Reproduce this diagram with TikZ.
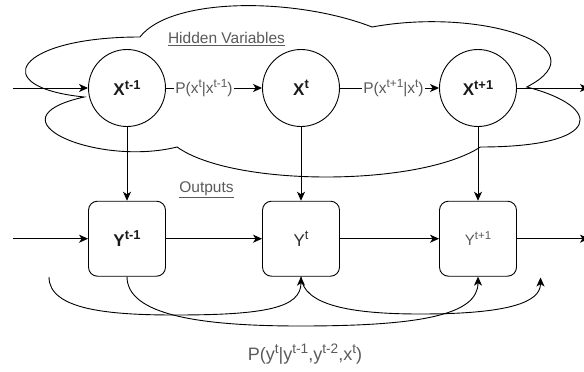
\documentclass[tikz,border=0pt]{standalone}
\usepackage{fontspec}
\usepackage{graphicx}
\setmainfont{Liberation Sans}
\usetikzlibrary{arrows.meta}
\newcommand\sups[1]{\raisebox{.38em}{\scalebox{.76}{#1}}}
\definecolor{txtdark}{HTML}{1A1A1A}
\definecolor{txtmid}{HTML}{2E2E2E}
\definecolor{txtgray}{HTML}{5A5A5A}
\tikzset{
  arr/.style={line width=0.9pt, -{Stealth[length=9pt,width=8pt,inset=2.5pt]}},
  xnode/.style={circle, draw, line width=0.9pt, fill=white, minimum size=77pt, inner sep=0pt,
    font=\fontsize{17}{19}\selectfont\bfseries, text=txtdark},
  ynode/.style={rectangle, rounded corners=9pt, draw, line width=0.9pt, fill=white,
    minimum width=77pt, minimum height=75pt, inner sep=0pt, text=txtdark},
  elabel/.style={fill=white, inner sep=1pt, text=txtgray, font=\fontsize{15.5}{17}\selectfont},
  title/.style={text=txtgray, font=\fontsize{15.5}{17}\selectfont, inner sep=0pt},
}
\begin{document}
\begin{tikzpicture}[x=1pt,y=-1pt]
\useasboundingbox (0,0) rectangle (584,372);
% cloud
\draw[line width=0.9pt, fill=white]
  (139.95,37) .. controls (16.15,37) and (-14.8,87) .. (84.24,97)
  .. controls (-14.8,119) and (96.62,167) .. (177.09,147)
  .. controls (232.8,187) and (418.5,187) .. (480.4,147)
  .. controls (604.2,147) and (604.2,107) .. (526.8,87)
  .. controls (604.2,47) and (480.4,7) .. (372.1,27)
  .. controls (294.7,-3) and (170.9,-3) .. (139.95,37) -- cycle;
\node[title] (hv) at (226.5,39) {\underline{Hidden Variables}};
\node[title] (out) at (206.5,190) {\underline{Outputs}};

\node[xnode] (x1) at (127,88) {X\sups{t-1}};
\node[xnode] (x2) at (301,88) {X\sups{t}};
\node[xnode] (x3) at (478,88) {X\sups{t+1}};

\node[ynode, font=\fontsize{17}{19}\selectfont\bfseries] (y1) at (127,238.7) {Y\sups{t-1}};
\node[ynode, font=\fontsize{17}{19}\selectfont, text=txtmid] (y2) at (301,238.7) {Y\sups{t}};
\node[ynode, font=\fontsize{15}{17}\selectfont, text=txtgray] (y3) at (478,238.7) {Y\sups{t+1}};

\coordinate (inx) at (13,88);
\coordinate (outx) at (589,88);
\coordinate (iny) at (13,238.7);
\coordinate (outy) at (589,238.7);
\coordinate (c1s) at (49,277);
\coordinate (c3e) at (540.5,277.5);

\draw[arr] (inx) -- (x1);
\draw[arr] (x1) -- node[elabel, pos=0.395] {P(x\sups{t}|x\sups{t-1})} (x2);
\draw[arr] (x2) -- node[elabel, pos=0.54] {P(x\sups{t+1}|x\sups{t})} (x3);
\draw[arr] (x3) -- (outx);

\draw[arr] (x1) -- (y1);
\draw[arr] (x2) -- (y2);
\draw[arr] (x3) -- (y3);

\draw[arr] (iny) -- (y1);
\draw[arr] (y1) -- (y2);
\draw[arr] (y2) -- (y3);
\draw[arr] (y3) -- (outy);

\draw[arr] (c1s) .. controls (49,310) and (110,315) .. (175,315)
  .. controls (265,315) and (301,308) .. (y2.south);
\draw[arr] (y1.south) .. controls (127,315) and (200,326) .. (300,326)
  .. controls (420,326) and (478,315) .. (y3.south);
\draw[arr] (y2.south) .. controls (303,305) and (350,314) .. (420,314)
  .. controls (510,314) and (540.5,302) .. (c3e);

\node[text=txtgray, font=\fontsize{18}{20}\selectfont, inner sep=0pt] (plab) at (305,354)
  {P(y\sups{t}|y\sups{t-1},y\sups{t-2},x\sups{t})};
\end{tikzpicture}
\end{document}
